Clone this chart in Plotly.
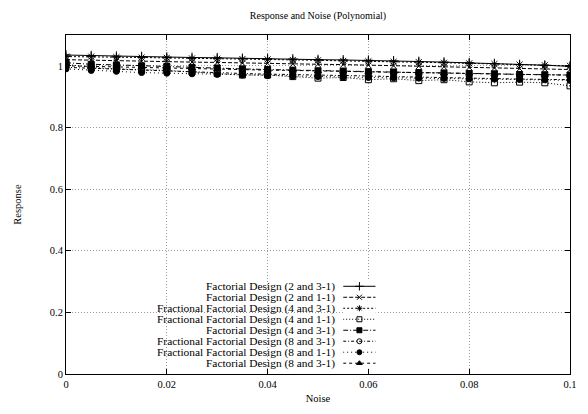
import plotly.graph_objects as go

noise = [round(0.005 * i, 3) for i in range(21)]

names = [
    "Factorial Design (2 and 3-1)",
    "Factorial Design (2 and 1-1)",
    "Fractional Factorial Design (4 and 3-1)",
    "Fractional Factorial Design (4 and 1-1)",
    "Factorial Design (4 and 3-1)",
    "Fractional Factorial Design (8 and 3-1)",
    "Fractional Factorial Design (8 and 1-1)",
    "Factorial Design (8 and 3-1)",
]

s1 = [1.035, 1.033, 1.031, 1.030, 1.028, 1.027, 1.026, 1.024, 1.023, 1.022, 1.020,
      1.019, 1.018, 1.016, 1.014, 1.012, 1.010, 1.007, 1.004, 1.002, 0.998]
s2 = [1.020, 1.018, 1.017, 1.015, 1.014, 1.012, 1.011, 1.009, 1.008, 1.006, 1.005,
      1.004, 1.002, 1.000, 0.999, 0.997, 0.995, 0.993, 0.991, 0.990, 0.988]
s3 = [1.030, 1.030, 1.028, 1.027, 1.026, 1.024, 1.023, 1.022, 1.021, 1.019, 1.018,
      1.016, 1.015, 1.013, 1.012, 1.010, 1.008, 1.006, 1.004, 1.002, 1.000]
s4 = [1.005, 0.995, 0.990, 0.988, 0.985, 0.980, 0.975, 0.970, 0.970, 0.965, 0.960,
      0.962, 0.955, 0.958, 0.952, 0.955, 0.948, 0.945, 0.947, 0.945, 0.935]
s5 = [1.010, 1.005, 1.003, 1.000, 0.998, 0.995, 0.993, 0.990, 0.988, 0.986, 0.984,
      0.983, 0.981, 0.980, 0.978, 0.977, 0.975, 0.974, 0.972, 0.971, 0.970]
s6 = [0.995, 0.992, 0.988, 0.985, 0.983, 0.980, 0.978, 0.975, 0.973, 0.972, 0.970,
      0.968, 0.967, 0.965, 0.963, 0.962, 0.960, 0.958, 0.957, 0.956, 0.955]
s7 = [0.990, 0.985, 0.982, 0.978, 0.976, 0.974, 0.972, 0.970, 0.968, 0.966, 0.965,
      0.963, 0.962, 0.961, 0.960, 0.959, 0.958, 0.957, 0.956, 0.955, 0.953]
s8 = [1.000, 0.998, 0.996, 0.995, 0.993, 0.991, 0.990, 0.988, 0.986, 0.985, 0.983,
      0.982, 0.980, 0.979, 0.978, 0.976, 0.975, 0.974, 0.972, 0.971, 0.970]
series = [s1, s2, s3, s4, s5, s6, s7, s8]

x_ticks = [0, 0.02, 0.04, 0.06, 0.08, 0.1]
x_labels = ["0", "0.02", "0.04", "0.06", "0.08", "0.1"]
y_ticks = [0, 0.2, 0.4, 0.6, 0.8, 1]
y_labels = ["0", "0.2", "0.4", "0.6", "0.8", "1"]

dashes = ["solid", "4px,2px", "2px,2px", "1px,2px", "5px,2px,1px,2px",
          "3px,2px,1px,2px", "1px,3px", "3px,3px"]
symbols = ["cross-thin", "x-thin", "asterisk", "square-open", "square",
           "circle-open", "circle", "triangle-up"]
sizes = [7, 6, 7, 6, 6, 6, 6, 6]
key_sizes = [6, 5, 5, 5, 5, 5, 5, 5]

FONT = "Liberation Serif"
W, H = 588, 414
L, R, T, B = 66, 11, 35, 35

fig = go.Figure()
for i, (nm, ys) in enumerate(zip(names, series)):
    fig.add_trace(go.Scatter(
        x=noise, y=ys, mode="lines+markers", name=nm, showlegend=False,
        line=dict(color="black", width=1, dash=dashes[i]),
        marker=dict(symbol=symbols[i], size=sizes[i], color="black",
                    line=dict(color="black", width=1)),
    ))

# manual gnuplot-style key: text right-aligned, sample on the right
pw = W - L - R
ph = H - T - B
def px2paper_x(px):
    return (px - L) / pw
def px2paper_y(py):
    return (H - B - py) / ph

row0, drow = 290, 11.15
text_right = 341
samp_l, samp_r = 347, 380
for i, nm in enumerate(names):
    yy = row0 + i * drow
    fig.add_annotation(x=px2paper_x(text_right), y=px2paper_y(yy), xref="paper", yref="paper",
                       text=nm, showarrow=False, xanchor="right", yanchor="middle",
                       font=dict(family=FONT, size=11.4, color="black"))

# legend sample axes
fig.update_layout(
    xaxis2=dict(domain=[px2paper_x(samp_l), px2paper_x(samp_r)], range=[0, 1],
                visible=False, anchor="y2", fixedrange=True),
    yaxis2=dict(domain=[px2paper_y(row0 + 7 * drow + drow / 2), px2paper_y(row0 - drow / 2)],
                range=[7.5, -0.5], visible=False, anchor="x2", fixedrange=True),
)
for i in range(8):
    fig.add_trace(go.Scatter(
        x=[0, 1], y=[i, i], xaxis="x2", yaxis="y2", mode="lines",
        showlegend=False, hoverinfo="skip",
        line=dict(color="black", width=1, dash=dashes[i]),
    ))
    fig.add_trace(go.Scatter(
        x=[0.5], y=[i], xaxis="x2", yaxis="y2", mode="markers",
        showlegend=False, hoverinfo="skip",
        marker=dict(symbol=symbols[i], size=key_sizes[i], color="black",
                    line=dict(color="black", width=1)),
    ))

fig.add_shape(type="rect", xref="paper", yref="paper",
              x0=px2paper_x(158), x1=px2paper_x(390),
              y0=px2paper_y(377), y1=px2paper_y(283),
              fillcolor="white", line=dict(width=0), layer="between")

axis_common = dict(
    showline=True, linecolor="black", linewidth=1, mirror="allticks",
    ticks="inside", ticklen=5, tickcolor="black",
    showgrid=True, gridcolor="#999999", griddash="1px,2px", gridwidth=1,
    zeroline=False, tickfont=dict(family=FONT, size=10.5, color="black"),
)
fig.update_layout(
    width=W, height=H,
    margin=dict(l=L, r=R, t=T, b=B),
    paper_bgcolor="white", plot_bgcolor="white",
    title=dict(text="Response and Noise (Polynomial)", x=0.5, xref="paper",
               y=1 - 15 / H, yanchor="middle",
               font=dict(family=FONT, size=10, color="black")),
    xaxis=dict(range=[0, 0.1], tickvals=x_ticks, ticktext=x_labels,
               title=dict(text="Noise", standoff=6, font=dict(family=FONT, size=10.5, color="black")),
               **axis_common),
    yaxis=dict(range=[0, 1.1], tickvals=y_ticks, ticktext=y_labels,
               title=dict(text="Response", standoff=26, font=dict(family=FONT, size=10.5, color="black")),
               **axis_common),
    showlegend=False,
)
fig.write_html("out.html")
